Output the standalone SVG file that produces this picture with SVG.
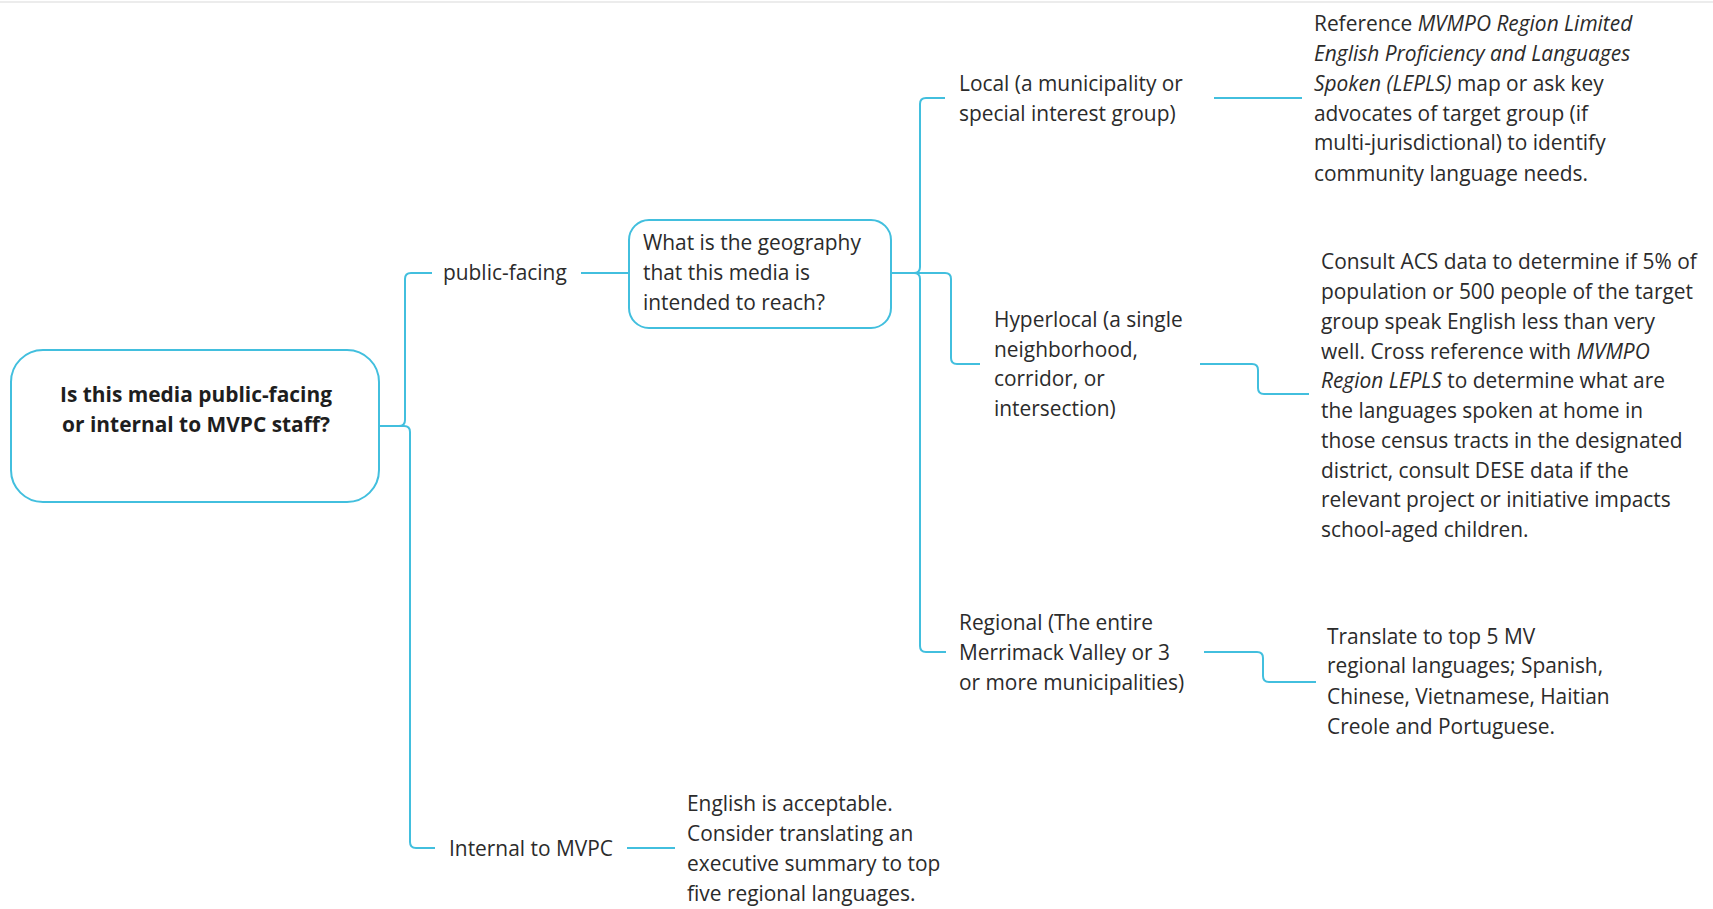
<svg xmlns="http://www.w3.org/2000/svg" width="1713" height="909" viewBox="0 0 1713 909">
<style>
.bg{fill:#ffffff}
.box{fill:#ffffff;stroke:#42bfde;stroke-width:2}
.ln{fill:none;stroke:#42bfde;stroke-width:2}
.t{font-family:"Open Sans","Liberation Sans",sans-serif;font-size:20.9px;fill:#2b2b2b}
.b{font-family:"Open Sans","Liberation Sans",sans-serif;font-size:20.9px;font-weight:bold;fill:#1e1e1e;text-anchor:middle}
.i{font-style:italic}
</style>
<rect class="bg" x="0" y="0" width="1713" height="909"/>
<line x1="0" y1="2" x2="1713" y2="2" stroke="#ececec" stroke-width="2"/>
<g id="connectors">
<path class="ln" d="M379,426 H399 Q405,426 405,420 V279 Q405,273 411,273 H432"/>
<path class="ln" d="M379,426 H404 Q410,426 410,432 V842 Q410,848 416,848 H435"/>
<path class="ln" d="M581,273 H629"/>
<path class="ln" d="M627,848 H675"/>
<path class="ln" d="M891,273 H914 Q920,273 920,267 V104 Q920,98 926,98 H945"/>
<path class="ln" d="M891,273 H945 Q951,273 951,279 V358 Q951,364 957,364 H980"/>
<path class="ln" d="M891,273 H914 Q920,273 920,279 V646 Q920,652 926,652 H946"/>
<path class="ln" d="M1214,98 H1302"/>
<path class="ln" d="M1200,364 H1252 Q1258,364 1258,370 V388 Q1258,394 1264,394 H1309"/>
<path class="ln" d="M1204,652 H1257 Q1263,652 1263,658 V676 Q1263,682 1269,682 H1316"/>
</g>
<g id="root">
<rect class="box" x="11" y="350" width="368" height="152" rx="32"/>
<text class="b" x="196" y="402">Is this media public-facing</text>
<text class="b" x="196" y="432">or internal to MVPC staff?</text>
</g>
<g id="public-facing">
<text class="t" x="443" y="280">public-facing</text>
</g>
<g id="internal">
<text class="t" x="449" y="856">Internal to MVPC</text>
</g>
<g id="geography">
<rect class="box" x="629" y="220" width="262" height="108" rx="20"/>
<text class="t" x="643" y="250">What is the geography</text>
<text class="t" x="643" y="280">that this media is</text>
<text class="t" x="643" y="310">intended to reach?</text>
</g>
<g id="english">
<text class="t" x="687" y="811">English is acceptable.</text>
<text class="t" x="687" y="841">Consider translating an</text>
<text class="t" x="687" y="871">executive summary to top</text>
<text class="t" x="687" y="901">five regional languages.</text>
</g>
<g id="local">
<text class="t" x="959" y="91">Local (a municipality or</text>
<text class="t" x="959" y="121">special interest group)</text>
</g>
<g id="hyperlocal">
<text class="t" x="994" y="327">Hyperlocal (a single</text>
<text class="t" x="994" y="357">neighborhood,</text>
<text class="t" x="994" y="386">corridor, or</text>
<text class="t" x="994" y="416">intersection)</text>
</g>
<g id="regional">
<text class="t" x="959" y="630">Regional (The entire</text>
<text class="t" x="959" y="660">Merrimack Valley or 3</text>
<text class="t" x="959" y="690">or more municipalities)</text>
</g>
<g id="reference">
<text class="t" x="1314" y="31">Reference <tspan class="i">MVMPO Region Limited</tspan></text>
<text class="t i" x="1314" y="61">English Proficiency and Languages</text>
<text class="t" x="1314" y="91"><tspan class="i">Spoken (LEPLS)</tspan> map or ask key</text>
<text class="t" x="1314" y="121">advocates of target group (if</text>
<text class="t" x="1314" y="150">multi-jurisdictional) to identify</text>
<text class="t" x="1314" y="181">community language needs.</text>
</g>
<g id="consult">
<text class="t" x="1321" y="269">Consult ACS data to determine if 5% of</text>
<text class="t" x="1321" y="299">population or 500 people of the target</text>
<text class="t" x="1321" y="329">group speak English less than very</text>
<text class="t" x="1321" y="359">well. Cross reference with <tspan class="i">MVMPO</tspan></text>
<text class="t" x="1321" y="388"><tspan class="i">Region LEPLS</tspan> to determine what are</text>
<text class="t" x="1321" y="418">the languages spoken at home in</text>
<text class="t" x="1321" y="448">those census tracts in the designated</text>
<text class="t" x="1321" y="478">district, consult DESE data if the</text>
<text class="t" x="1321" y="507">relevant project or initiative impacts</text>
<text class="t" x="1321" y="537">school-aged children.</text>
</g>
<g id="translate">
<text class="t" x="1327" y="644">Translate to top 5 MV</text>
<text class="t" x="1327" y="673">regional languages; Spanish,</text>
<text class="t" x="1327" y="704">Chinese, Vietnamese, Haitian</text>
<text class="t" x="1327" y="734">Creole and Portuguese.</text>
</g>
</svg>
